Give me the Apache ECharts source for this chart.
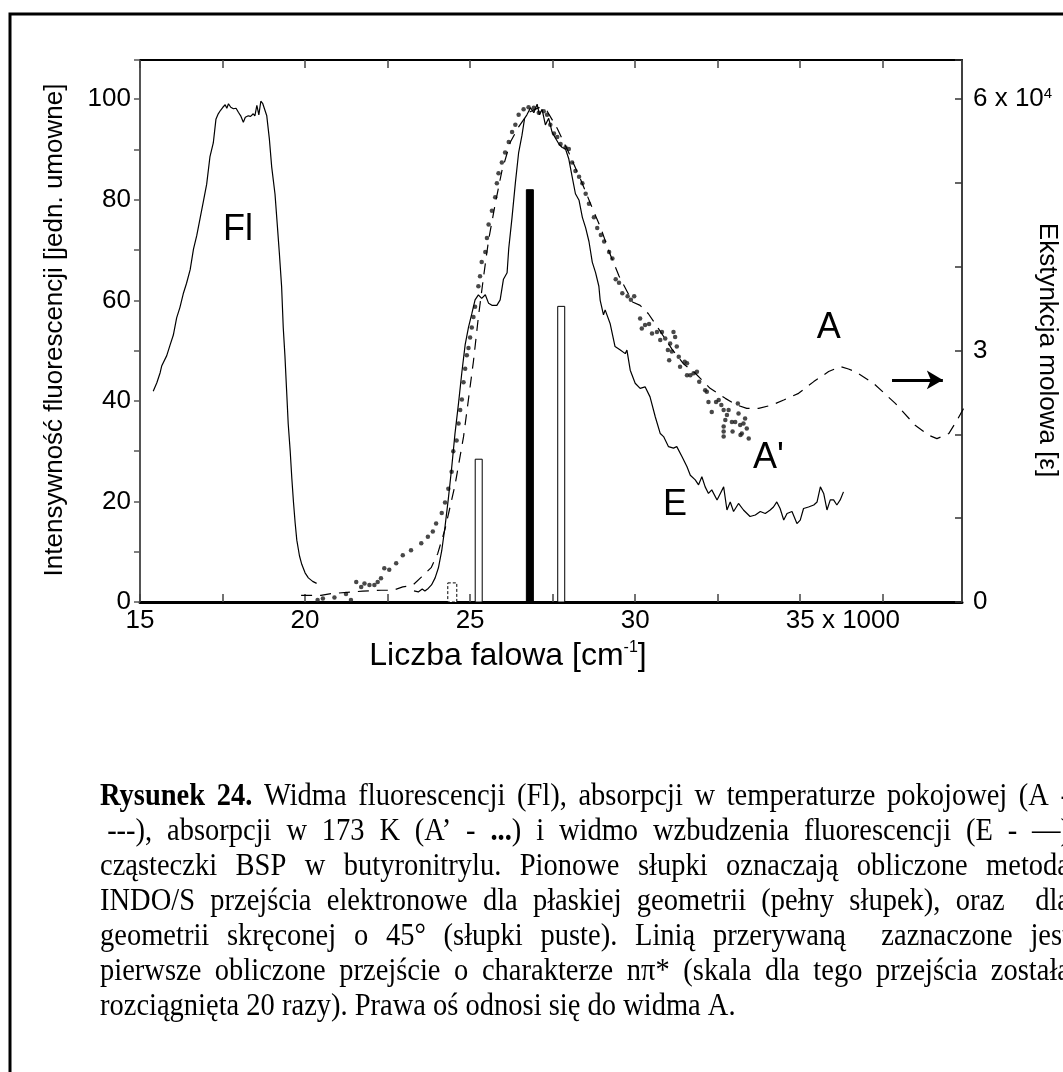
<!DOCTYPE html>
<html>
<head>
<meta charset="utf-8">
<title>Rysunek 24</title>
<script src="https://cdn.jsdelivr.net/npm/echarts@6/dist/echarts.min.js"></script>
<style>
body { margin: 0; background: #fff; }
#main { width: 1063px; height: 1072px; }
</style>
</head>
<body>
<div id="main"></div>
<script>
// liczba falowa (x 1000 cm-1), intensywnosc [jedn. umowne]
const flData = [
  [15.40, 41.9], [15.51, 43.6], [15.61, 45.6], [15.66, 47.0], [15.71, 47.3], [15.81, 49.0],
  [15.91, 51.1], [16.01, 53.1], [16.11, 56.5], [16.21, 58.6], [16.31, 61.3], [16.41, 63.4],
  [16.52, 66.1], [16.62, 70.2], [16.72, 72.9], [16.82, 76.3], [16.92, 79.7], [17.02, 83.1],
  [17.12, 88.6], [17.22, 91.3], [17.30, 96.0], [17.37, 97.1], [17.44, 97.8], [17.51, 98.4],
  [17.58, 98.9], [17.63, 98.2], [17.68, 99.1], [17.75, 98.4], [17.83, 98.1], [17.91, 98.2],
  [17.98, 97.4], [18.05, 96.7], [18.13, 95.4], [18.19, 96.4], [18.28, 96.7], [18.35, 96.6],
  [18.43, 97.1], [18.48, 96.7], [18.54, 98.8], [18.60, 96.9], [18.66, 99.6], [18.72, 99.1],
  [18.78, 98.9], [18.84, 96.7], [18.92, 92.0], [18.99, 86.5], [19.09, 81.1], [19.16, 74.9],
  [19.22, 69.5], [19.29, 62.7], [19.34, 54.5], [19.39, 49.0], [19.44, 42.2], [19.49, 35.4],
  [19.55, 30.0], [19.60, 24.5], [19.65, 19.8], [19.70, 15.7], [19.75, 12.3], [19.83, 9.2],
  [19.90, 7.5], [20.00, 5.8], [20.10, 4.8], [20.23, 4.1], [20.35, 3.7]
];

// widmo wzbudzenia fluorescencji (E)
const eData = [
  [23.30, 2.2], [23.43, 2.0], [23.55, 2.6], [23.63, 2.2], [23.73, 2.7], [23.83, 3.4],
  [23.94, 4.8], [24.04, 6.8], [24.14, 10.2], [24.24, 15.0], [24.34, 20.5], [24.44, 26.6],
  [24.54, 33.4], [24.65, 39.6], [24.75, 45.7], [24.85, 51.2], [24.95, 54.6], [25.05, 57.3],
  [25.15, 60.1], [25.25, 61.1], [25.35, 60.4], [25.46, 61.1], [25.56, 59.4], [25.66, 59.0],
  [25.81, 59.0], [25.91, 60.1], [26.01, 64.2], [26.12, 65.5], [26.17, 70.3], [26.27, 76.5],
  [26.37, 83.3], [26.47, 89.4], [26.57, 92.8], [26.65, 96.2], [26.72, 96.9], [26.83, 98.3],
  [26.93, 97.3], [27.03, 99.0], [27.10, 96.9], [27.18, 98.0], [27.28, 94.9], [27.38, 96.2],
  [27.48, 93.5], [27.59, 92.2], [27.69, 91.1], [27.79, 90.4], [27.89, 90.1], [27.99, 88.1],
  [28.09, 84.6], [28.19, 81.2], [28.30, 79.9], [28.40, 76.5], [28.50, 74.4], [28.60, 71.7],
  [28.70, 67.6], [28.80, 65.5], [28.90, 62.8], [28.94, 60.0], [29.04, 57.1], [29.09, 58.1],
  [29.24, 55.4], [29.39, 50.8], [29.55, 50.1], [29.70, 49.4], [29.75, 50.1], [29.85, 46.1],
  [30.00, 43.5], [30.15, 42.5], [30.30, 42.8], [30.45, 40.8], [30.61, 36.8], [30.76, 33.5],
  [30.86, 32.9], [31.01, 30.9], [31.16, 30.6], [31.26, 30.9], [31.42, 28.9], [31.57, 26.9],
  [31.67, 25.2], [31.82, 24.3], [31.92, 23.3], [32.02, 24.9], [32.12, 22.9], [32.22, 21.6],
  [32.32, 22.3], [32.48, 20.3], [32.58, 21.6], [32.68, 22.9], [32.78, 18.3], [32.88, 19.9],
  [32.98, 18.0], [33.13, 19.6], [33.28, 18.3], [33.48, 17.0], [33.64, 17.3], [33.79, 18.0],
  [33.94, 17.6], [34.09, 18.3], [34.19, 18.9], [34.29, 19.9], [34.39, 18.6], [34.50, 16.3],
  [34.60, 17.6], [34.75, 18.0], [34.90, 15.6], [35.00, 16.3], [35.10, 18.6], [35.25, 18.9],
  [35.41, 19.3], [35.51, 19.9], [35.61, 22.9], [35.71, 21.6], [35.81, 18.3], [35.91, 20.3],
  [36.01, 20.3], [36.11, 19.3], [36.21, 20.3], [36.31, 21.9]
];

// absorpcja w temp. pokojowej (A), ekstynkcja molowa x 10^4 (prawa os)
const aData = [
  [19.88, 0.08], [20.48, 0.08], [20.79, 0.10], [21.75, 0.13], [22.30, 0.14], [22.66, 0.14],
  [22.96, 0.18], [23.26, 0.20], [23.53, 0.30], [23.82, 0.41], [24.02, 0.58], [24.24, 0.87],
  [24.54, 1.39], [24.80, 1.97], [24.95, 2.42], [25.10, 2.87], [25.25, 3.40], [25.41, 3.89],
  [25.56, 4.32], [25.76, 4.75], [25.96, 5.14], [26.22, 5.49], [26.47, 5.67], [26.77, 5.84],
  [27.08, 5.90], [27.33, 5.86], [27.64, 5.65], [27.99, 5.36], [28.35, 5.04], [28.65, 4.75],
  [28.96, 4.46], [29.21, 4.18], [29.51, 3.89], [29.92, 3.58], [30.15, 3.54], [30.40, 3.44],
  [30.71, 3.26], [31.11, 3.02], [31.47, 2.84], [31.82, 2.73], [32.27, 2.55], [32.73, 2.43],
  [33.08, 2.35], [33.38, 2.31], [33.74, 2.31], [34.14, 2.35], [34.50, 2.41], [34.95, 2.49],
  [35.41, 2.63], [35.86, 2.75], [36.21, 2.81], [36.46, 2.78], [36.67, 2.75], [37.22, 2.61],
  [37.88, 2.37], [38.48, 2.11], [38.89, 1.99], [39.14, 1.95], [39.50, 2.01], [39.75, 2.17],
  [39.95, 2.31]
];

// absorpcja w 173 K (A'), punkty
const a2Data = [
  [20.38, 0.4], [20.54, 0.7], [20.89, 0.9], [21.24, 1.6], [21.39, 0.4], [21.55, 4.0],
  [21.70, 3.0], [21.80, 3.7], [21.95, 3.4], [22.10, 3.4], [22.20, 4.0], [22.30, 4.7],
  [22.40, 6.7], [22.55, 6.4], [22.76, 7.7], [22.96, 9.3], [23.21, 10.3], [23.52, 11.7],
  [23.72, 13.0], [23.87, 14.0], [23.97, 15.6], [24.14, 17.7], [24.24, 19.8], [24.34, 22.5],
  [24.44, 25.9], [24.49, 30.0], [24.59, 32.1], [24.65, 35.5], [24.70, 38.2], [24.75, 40.3],
  [24.80, 43.7], [24.85, 46.4], [24.90, 49.1], [24.95, 50.5], [25.00, 52.6], [25.05, 54.6],
  [25.10, 56.7], [25.15, 58.7], [25.25, 62.8], [25.30, 64.8], [25.35, 67.6], [25.46, 69.6],
  [25.51, 72.4], [25.56, 75.1], [25.66, 77.8], [25.76, 80.5], [25.81, 83.3], [25.86, 85.3],
  [25.96, 87.4], [26.06, 89.4], [26.17, 91.5], [26.27, 93.5], [26.37, 94.9], [26.47, 96.9],
  [26.62, 98.0], [26.77, 98.4], [26.93, 98.3], [27.08, 97.3], [27.23, 97.6], [27.33, 96.9],
  [27.43, 94.9], [27.54, 93.2], [27.64, 92.5], [27.74, 91.1], [27.89, 90.4], [27.99, 90.1],
  [28.09, 87.4], [28.19, 85.7], [28.30, 84.6], [28.40, 83.3], [28.50, 81.2], [28.60, 79.2],
  [28.75, 76.5], [28.85, 74.4], [28.96, 73.0], [29.06, 71.7], [29.21, 69.6], [29.31, 68.3],
  [29.41, 64.2], [29.51, 63.5], [29.61, 61.4], [29.77, 60.8], [29.87, 60.1], [29.97, 60.8],
  [30.15, 56.4], [30.20, 54.4], [30.30, 55.1], [30.42, 55.3], [30.51, 53.4], [30.66, 53.7],
  [30.81, 53.7], [30.76, 52.1], [30.91, 52.4], [30.99, 50.1], [31.06, 51.4], [31.16, 53.7],
  [31.21, 52.7], [31.26, 50.8], [31.11, 49.8], [31.03, 48.1], [31.32, 48.8], [31.36, 46.8],
  [31.50, 47.8], [31.57, 47.5], [31.57, 45.1], [31.67, 45.1], [31.77, 45.5], [31.87, 45.8],
  [31.94, 43.8], [32.12, 42.1], [32.17, 41.8], [32.22, 39.8], [32.32, 37.8], [32.45, 39.8],
  [32.53, 40.2], [32.61, 39.2], [32.68, 38.2], [32.78, 37.2], [32.83, 38.2], [32.73, 36.2],
  [32.93, 35.8], [33.03, 35.8], [33.13, 37.5], [33.11, 39.5], [33.18, 35.2], [33.28, 35.5],
  [33.33, 36.5], [33.38, 34.5], [33.23, 33.5], [33.44, 32.5], [32.68, 34.9], [32.68, 33.9],
  [32.68, 32.9], [32.95, 33.9], [33.19, 33.2]
];

// obliczone przejscia INDO/S: [x, wysokosc, rodzaj]
const sticks = [
  [24.46, 3.8, 'dashed'],
  [25.26, 28.4, 'empty'],
  [26.81, 82.0, 'full'],
  [27.76, 58.8, 'empty']
];

const curveLabels = [['Fl', 17.97, 73.9], ['E', 31.21, 19.3], ['A', 35.86, 54.4], ["A'", 34.04, 28.6]];
const arrowFrom = [37.78, 2.65];
const arrowTo = [39.32, 2.65];

const xLabels = [15, 20, 25, 30, 35];
const leftLabels = [0, 20, 40, 60, 80, 100];
const rightLabels = [0, 3, 6];

const captionLines = [
  '**Rysunek 24.** Widma fluorescencji (Fl), absorpcji w temperaturze pokojowej (A -',
  '\u00a0---), absorpcji w 173 K (A’ - **...**) i widmo wzbudzenia fluorescencji (E - —)',
  'cząsteczki BSP w butyronitrylu. Pionowe słupki oznaczają obliczone metodą',
  'INDO/S przejścia elektronowe dla płaskiej geometrii (pełny słupek), oraz  dla',
  'geometrii skręconej o 45° (słupki puste). Linią przerywaną  zaznaczone jest',
  'pierwsze obliczone przejście o charakterze nπ* (skala dla tego przejścia została',
  'rozciągnięta 20 razy). Prawa oś odnosi się do widma A.'
];

const sans = '"Liberation Sans", Arial, sans-serif';
const serif = '"Liberation Serif", "Times New Roman", serif';
const tickSize = 26;

const ctx = document.createElement('canvas').getContext('2d');
function textWidth(t, font) {
  ctx.font = font;
  return ctx.measureText(t).width;
}

// podpis: kazda linia justowana do prawego brzegu (poza kadrem)
const capSize = 28.5;
const capLeft = 100, capRight = 1070, capTop = 797, capStep = 35;
function capFont(bold) {
  return (bold ? 'bold ' : '') + capSize + 'px ' + serif;
}
function parseLine(line) {
  const words = [];
  let cur = [];
  line.split('**').forEach(function (part, i) {
    const bold = i % 2 === 1;
    part.split(' ').forEach(function (c, j) {
      if (j > 0) { words.push(cur); cur = []; }
      if (c) cur.push([c, bold]);
    });
  });
  words.push(cur);
  return words;
}
const captionElements = [];
captionLines.forEach(function (line, li) {
  const words = parseLine(line);
  const widths = words.map(function (w) {
    return w.reduce(function (s, seg) { return s + textWidth(seg[0], capFont(seg[1])); }, 0);
  });
  const total = widths.reduce(function (a, b) { return a + b; }, 0);
  const last = li === captionLines.length - 1;
  const gap = last ? textWidth(' ', capFont(false)) : (capRight - capLeft - total) / (words.length - 1);
  let x = capLeft;
  words.forEach(function (w, i) {
    if (w.length) {
      captionElements.push({
        type: 'text', x: x, y: capTop + li * capStep, scaleY: 1.1, silent: true,
        style: {
          text: w.map(function (seg) { return '{' + (seg[1] ? 'b' : 'n') + '|' + seg[0] + '}'; }).join(''),
          rich: {
            n: { fontFamily: serif, fontSize: capSize, fill: '#000' },
            b: { fontFamily: serif, fontSize: capSize, fontWeight: 'bold', fill: '#000' }
          },
          verticalAlign: 'middle'
        }
      });
    }
    x += widths[i] + gap;
  });
});

const x35pad = textWidth(' x 1000', tickSize + 'px ' + sans);

const myChart = echarts.init(document.getElementById('main'), null, { renderer: 'canvas' });

const option = {
  animation: false,
  backgroundColor: '#fff',
  grid: { left: 140, right: 101, top: 60, bottom: 470, outerBoundsMode: 'none' },
  xAxis: [{
    type: 'value', position: 'bottom', min: 15, max: 39.9, interval: 2.5,
    axisLine: { onZero: false, lineStyle: { color: '#000', width: 3 } },
    axisTick: { inside: true, length: 8, lineStyle: { color: '#444', width: 1.5 } },
    splitLine: { show: false },
    axisLabel: {
      margin: 6, color: '#000', fontFamily: sans, fontSize: tickSize,
      formatter: function (v) {
        if (!xLabels.includes(v)) return '';
        if (v === 35) return '{p| }{c|35 x 1000}';
        return '{c|' + v + '}';
      },
      rich: {
        p: { width: x35pad, fontSize: tickSize },
        c: { fontFamily: sans, fontSize: tickSize, color: '#000' }
      }
    }
  }, {
    type: 'value', position: 'top', min: 15, max: 39.9, interval: 2.5,
    axisLine: { onZero: false, lineStyle: { color: '#000', width: 2 } },
    axisTick: { inside: true, length: 8, lineStyle: { color: '#444', width: 1.5 } },
    axisLabel: { show: false },
    splitLine: { show: false }
  }],
  yAxis: [{
    type: 'value', position: 'left', min: 0, max: 107.8, interval: 10,
    axisLine: { show: true, onZero: false, lineStyle: { color: '#555', width: 2 } },
    axisTick: { show: true, inside: false, length: 6, lineStyle: { color: '#555', width: 1.5 } },
    splitLine: { show: false },
    axisLabel: {
      margin: 9, color: '#000', fontFamily: sans, fontSize: tickSize,
      formatter: function (v) { return leftLabels.includes(v) ? String(v) : ''; }
    }
  }, {
    type: 'value', position: 'right', min: 0, max: 6.468, interval: 1,
    axisLine: { show: true, onZero: false, lineStyle: { color: '#000', width: 1.5 } },
    axisTick: { show: true, inside: true, length: 7, lineStyle: { color: '#333', width: 1.5 } },
    splitLine: { show: false },
    axisLabel: {
      margin: 11, color: '#000', fontFamily: sans, fontSize: tickSize,
      formatter: function (v) {
        if (!rightLabels.includes(v)) return '';
        if (v === 6) return '{a|6 x 10}{s|4}';
        return '{a|' + v + '}';
      },
      rich: {
        a: { fontFamily: sans, fontSize: tickSize, color: '#000' },
        s: { fontFamily: sans, fontSize: 15, color: '#000', verticalAlign: 'top' }
      }
    }
  }],
  series: [{
    name: 'Fl', type: 'line', data: flData, showSymbol: false,
    lineStyle: { color: '#000', width: 1.2 },
    markPoint: {
      symbol: 'rect', symbolSize: 1, silent: true,
      itemStyle: { color: 'rgba(0,0,0,0)' },
      label: { show: true, position: 'inside', formatter: '{b}', color: '#000', fontFamily: sans, fontSize: 36 },
      data: curveLabels.map(function (l) { return { name: l[0], coord: [l[1], l[2]] }; })
    }
  }, {
    name: 'E', type: 'line', data: eData, showSymbol: false,
    lineStyle: { color: '#000', width: 1.2 }
  }, {
    name: 'A', type: 'line', yAxisIndex: 1, data: aData, showSymbol: false,
    lineStyle: { color: '#000', width: 1.2, type: [11, 8] },
    markLine: {
      silent: true, symbol: ['none', 'arrow'], symbolSize: [14, 16],
      lineStyle: { color: '#000', width: 3, type: 'solid' },
      label: { show: false },
      data: [[{ coord: arrowFrom }, { coord: arrowTo }]]
    }
  }, {
    name: "A'", type: 'scatter', data: a2Data, symbolSize: 4.5,
    itemStyle: { color: '#1a1a1a' }
  }, {
    name: 'INDO/S', type: 'custom',
    data: sticks.map(function (s) { return [s[0], s[1]]; }),
    encode: { x: 0, y: 1 },
    renderItem: function (params, api) {
      const kind = sticks[params.dataIndex][2];
      const base = api.coord([api.value(0), 0]);
      const top = api.coord([api.value(0), api.value(1)]);
      const w = kind === 'dashed' ? 9 : 7;
      return {
        type: 'rect',
        shape: { x: base[0] - w / 2, y: top[1], width: w, height: base[1] - top[1] },
        style: {
          fill: kind === 'full' ? '#000' : '#fff',
          stroke: '#000',
          lineWidth: 1,
          lineDash: kind === 'dashed' ? [3, 2] : null
        }
      };
    }
  }],
  graphic: [{
    type: 'rect', silent: true, z: -1,
    shape: { x: 10, y: 14, width: 1100, height: 1100 },
    style: { fill: 'none', stroke: '#000', lineWidth: 3 }
  }, {
    type: 'text', x: 55, y: 330, rotation: Math.PI / 2, silent: true,
    style: {
      text: 'Intensywność fluorescencji [jedn. umowne]',
      font: '26px ' + sans, fill: '#000', align: 'center', verticalAlign: 'middle'
    }
  }, {
    type: 'text', x: 1047, y: 350, rotation: -Math.PI / 2, silent: true,
    style: {
      text: 'Ekstynkcja molowa [ε]',
      font: '26px ' + sans, fill: '#000', align: 'center', verticalAlign: 'middle'
    }
  }, {
    type: 'text', x: 508, y: 656, silent: true,
    style: {
      text: '{a|Liczba falowa [cm}{s|-1}{a|]}',
      rich: {
        a: { fontFamily: sans, fontSize: 32, fill: '#000' },
        s: { fontFamily: sans, fontSize: 16, fill: '#000', verticalAlign: 'top' }
      },
      align: 'center', verticalAlign: 'middle'
    }
  }].concat(captionElements)
};

myChart.setOption(option);
</script>
</body>
</html>
